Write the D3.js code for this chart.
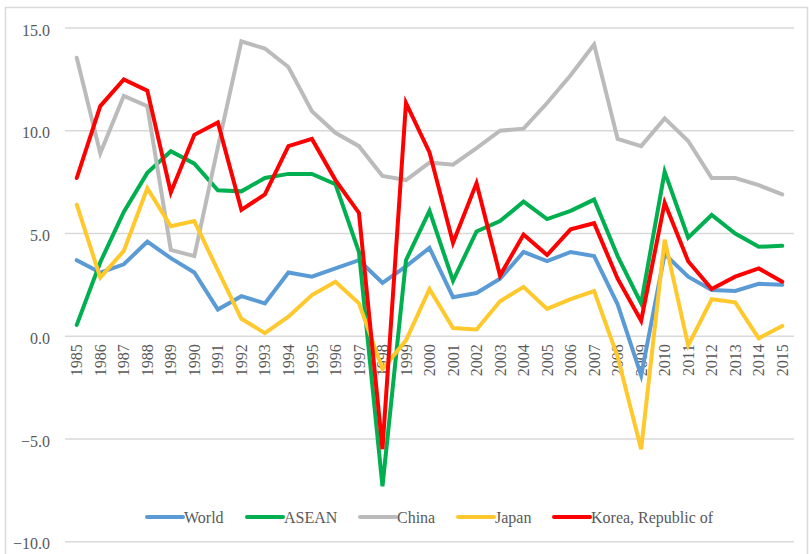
<!DOCTYPE html>
<html>
<head>
<meta charset="utf-8">
<script src="https://cdn.jsdelivr.net/npm/d3@7/dist/d3.min.js"></script>
<style>
  html, body { margin: 0; padding: 0; background: #fff; }
  svg { display: block; }
</style>
</head>
<body>
<svg id="chart" width="809" height="554"></svg>
<script>
const years = d3.range(1985, 2016).map(String);
const yTicks = [-10, -5, 0, 5, 10, 15];
const seriesNames = ["World", "ASEAN", "China", "Japan", "Korea, Republic of"];
const seriesColors = ["#5B9BD5", "#00B050", "#BBBBBB", "#FFC92E", "#FF0000"];

const world = [3.7, 3.1, 3.5, 4.6, 3.8, 3.1, 1.3, 1.95, 1.6, 3.1, 2.9, 3.3, 3.7, 2.6, 3.4, 4.3, 1.9, 2.1, 2.8, 4.1, 3.65, 4.1, 3.9, 1.55, -1.9, 4.0, 2.9, 2.25, 2.2, 2.55, 2.5];
const asean = [0.55, 3.6, 6.05, 7.95, 9.0, 8.4, 7.1, 7.05, 7.7, 7.9, 7.9, 7.4, 4.1, -7.3, 3.7, 6.1, 2.7, 5.1, 5.6, 6.55, 5.7, 6.1, 6.65, 3.9, 1.6, 8.0, 4.8, 5.9, 5.0, 4.35, 4.4];
const china = [13.55, 8.9, 11.7, 11.2, 4.2, 3.9, 9.2, 14.35, 14.0, 13.1, 10.95, 9.9, 9.25, 7.8, 7.6, 8.45, 8.35, 9.15, 10.0, 10.1, 11.35, 12.7, 14.2, 9.6, 9.25, 10.6, 9.5, 7.7, 7.7, 7.35, 6.9];
const japan = [6.4, 2.85, 4.15, 7.2, 5.35, 5.6, 3.2, 0.85, 0.15, 0.95, 2.0, 2.65, 1.6, -1.6, -0.2, 2.3, 0.4, 0.33, 1.7, 2.4, 1.33, 1.8, 2.2, -1.0, -5.5, 4.7, -0.45, 1.8, 1.65, -0.1, 0.5];
const korea = [7.7, 11.2, 12.5, 11.95, 7.0, 9.8, 10.4, 6.15, 6.9, 9.25, 9.6, 7.6, 6.0, -5.5, 11.35, 8.95, 4.55, 7.45, 2.95, 4.95, 3.95, 5.2, 5.5, 2.8, 0.75, 6.5, 3.65, 2.3, 2.9, 3.3, 2.65];

const seriesData = [world, asean, china, japan, korea];
const FONT = "Liberation Serif, serif";

const svg = d3.select("#chart");

function styleText(sel) {
  sel.attr("font-family", FONT)
     .style("font-family", FONT, "important")
     .attr("font-size", 16)
     .style("font-size", "16px", "important")
     .attr("fill", "#595959");
}

// outer frame
svg.append("rect")
  .attr("x", 5.5).attr("y", 7.5)
  .attr("width", 802).attr("height", 570)
  .attr("fill", "none")
  .attr("stroke", "#D9D9D9")
  .attr("stroke-width", 1.5);

const x = d3.scaleBand().domain(years).range([65, 794]).padding(0);
const y = d3.scaleLinear().domain([-10, 15]).range([541.7, 28]);
const xc = d => x(d) + x.bandwidth() / 2;

// gridlines
svg.append("g").selectAll("line").data(yTicks).join("line")
  .attr("x1", 65).attr("x2", 794)
  .attr("y1", d => y(d)).attr("y2", d => y(d))
  .attr("stroke", "#D9D9D9").attr("stroke-width", 1.5);

// y tick labels
svg.append("g").selectAll("text").data(yTicks).join("text")
  .attr("x", 50).attr("y", d => y(d) + 2)
  .attr("dy", "0.35em")
  .attr("text-anchor", "end")
  .call(styleText)
  .text(d => d3.format(".1f")(d));

// x labels (rotated, at zero line)
svg.append("g").selectAll("text").data(years).join("text")
  .attr("transform", d => `translate(${xc(d)},${y(0) + 8}) rotate(-90)`)
  .attr("dy", "0.35em")
  .attr("text-anchor", "end")
  .call(styleText)
  .text(d => d);

// lines
const line = d3.line()
  .x((d, i) => xc(years[i]))
  .y(d => y(d));

svg.append("g").selectAll("path").data(seriesData).join("path")
  .attr("d", d => line(d))
  .attr("fill", "none")
  .attr("stroke", (d, i) => seriesColors[i])
  .attr("stroke-width", 4)
  .attr("stroke-linejoin", "miter")
  .attr("stroke-linecap", "round");

// legend
const legendX = [147, 247, 360, 458, 554];
const legendY = 517;
const lg = svg.append("g").selectAll("g").data(seriesNames).join("g")
  .attr("transform", (d, i) => `translate(${legendX[i]},${legendY})`);
lg.append("line")
  .attr("x1", 0).attr("x2", 36).attr("y1", 0).attr("y2", 0)
  .attr("stroke", (d, i) => seriesColors[i])
  .attr("stroke-width", 4)
  .attr("stroke-linecap", "round");
lg.append("text")
  .attr("x", 37).attr("y", 0).attr("dy", "0.35em")
  .call(styleText)
  .text(d => d);
</script>
</body>
</html>
